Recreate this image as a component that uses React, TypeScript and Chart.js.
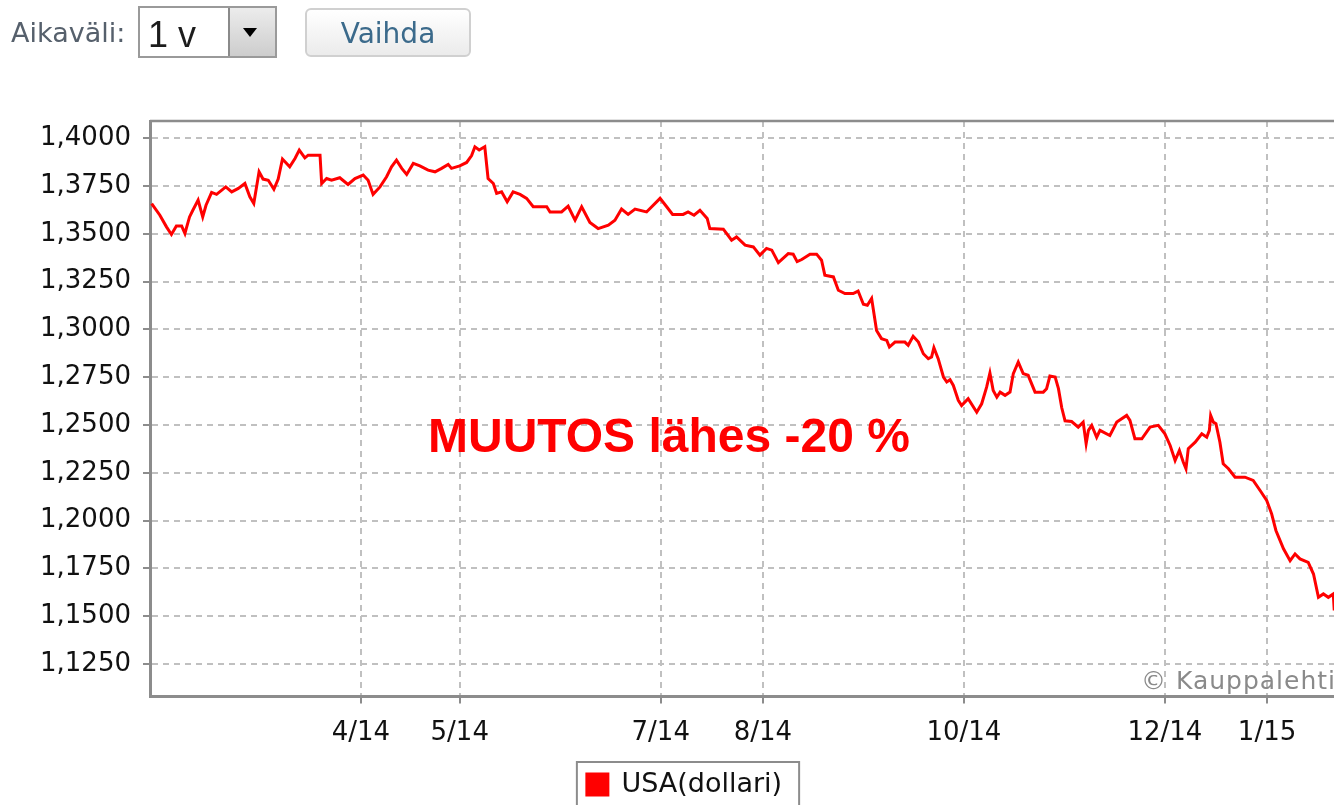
import React, { useEffect, useRef } from 'react';
import { Chart, registerables } from 'chart.js';

Chart.register(...registerables);

// x: days since 1 Jan 2014 ; y: EUR/USD rate
const days = [
  26.5, 29.0, 31.0, 32.5, 34.0, 35.6, 36.6, 37.0, 38.0, 39.0, 40.6, 42.0, 43.0, 44.7, 46.2, 49.0,
  50.8, 52.8, 54.8, 56.3, 57.5, 59.1, 60.3, 61.9, 63.6, 64.9, 66.2, 68.4, 70.0, 71.3, 73.0, 74.0,
  77.6, 78.1, 79.6, 81.1, 83.6, 86.1, 88.2, 90.7, 92.2, 93.7, 95.8, 97.8, 99.3, 100.8, 102.4, 103.9,
  105.9, 107.9, 110.4, 112.5, 114.5, 116.5, 117.5, 120.0, 122.1, 123.6, 124.6, 125.9, 127.6, 128.6,
  130.2, 131.2, 132.7, 134.4, 136.2, 138.3, 140.3, 142.3, 146.4, 147.4, 150.9, 152.9, 155.0, 157.0,
  159.5, 162.0, 165.1, 167.1, 169.1, 171.1, 173.2, 176.7, 180.8, 182.8, 184.6, 187.8, 189.3, 191.1,
  192.9, 195.1, 195.9, 200.0, 202.5, 204.0, 206.6, 209.1, 211.1, 213.1, 214.7, 216.7, 219.7, 221.2,
  222.4, 223.8, 226.3, 228.3, 229.8, 230.8, 233.4, 234.9, 236.9, 239.4, 240.9, 242.5, 243.7, 245.0,
  246.5, 248.0, 249.6, 250.4, 252.1, 255.1, 256.1, 257.6, 259.2, 260.7, 262.2, 263.2, 263.9, 265.2,
  266.8, 267.8, 268.8, 269.8, 271.3, 272.3, 274.3, 276.9, 278.4, 279.9, 280.9, 281.9, 283.0, 284.0,
  285.5, 287.0, 288.0, 289.5, 291.0, 292.5, 294.6, 297.1, 298.1, 299.1, 300.7, 301.7, 302.7, 303.7,
  305.7, 307.7, 309.2, 310.1, 310.8, 311.8, 313.3, 314.3, 317.3, 319.4, 322.4, 323.4, 324.9, 327.0,
  329.5, 332.0, 334.0, 335.6, 337.1, 338.4, 339.6, 340.4, 341.1, 343.2, 345.2, 346.7, 347.5, 347.9,
  348.7, 349.5, 350.7, 351.7, 353.3, 355.3, 358.3, 360.8, 362.9, 364.9, 366.4, 367.7, 370.0, 372.0,
  373.5, 375.0, 377.5, 379.1, 380.6, 382.1, 383.6, 385.1, 385.4
];

const usdValues = [
  1.3659, 1.3598, 1.3537, 1.3497, 1.3542, 1.3542, 1.3502, 1.3528, 1.3589, 1.3624, 1.3677, 1.3589, 1.3650, 1.3717, 1.3707, 1.3746,
  1.3720, 1.3738, 1.3764, 1.3694, 1.3659, 1.3825, 1.3787, 1.3781, 1.3734, 1.3787, 1.3892, 1.3851, 1.3895, 1.3939, 1.3898, 1.3912,
  1.3912, 1.3764, 1.3790, 1.3781, 1.3794, 1.3759, 1.3790, 1.3808, 1.3781, 1.3707, 1.3746, 1.3799, 1.3851, 1.3886, 1.3843, 1.3811,
  1.3869, 1.3856, 1.3834, 1.3825, 1.3843, 1.3864, 1.3843, 1.3856, 1.3874, 1.3910, 1.3956, 1.3939, 1.3956, 1.3790,
  1.3764, 1.3712, 1.3720, 1.3668, 1.3720, 1.3707, 1.3686, 1.3642, 1.3642, 1.3615, 1.3615, 1.3645, 1.3572, 1.3642,
  1.3560, 1.3528, 1.3546, 1.3572, 1.3630, 1.3602, 1.3630, 1.3615, 1.3686, 1.3642, 1.3602, 1.3602, 1.3615, 1.3598,
  1.3624, 1.3581, 1.3528, 1.3525, 1.3467, 1.3484, 1.3441, 1.3432, 1.3389, 1.3424, 1.3415, 1.3350, 1.3397, 1.3394,
  1.3355, 1.3366, 1.3394, 1.3394, 1.3362, 1.3284, 1.3275, 1.3205, 1.3188, 1.3188, 1.3201, 1.3132, 1.3127, 1.3162,
  1.2995, 1.2952, 1.2943, 1.2908, 1.2934, 1.2934, 1.2917, 1.2964, 1.2934, 1.2873, 1.2847, 1.2856, 1.2905, 1.2847,
  1.2751, 1.2725, 1.2737, 1.2707, 1.2629, 1.2602, 1.2638, 1.2567, 1.2611, 1.2698, 1.2772, 1.2681, 1.2646, 1.2672,
  1.2655, 1.2672, 1.2769, 1.2829, 1.2769, 1.2760, 1.2672, 1.2672, 1.2690, 1.2756, 1.2751, 1.2690, 1.2590, 1.2522,
  1.2518, 1.2489, 1.2515, 1.2402, 1.2472, 1.2498, 1.2436, 1.2472, 1.2445, 1.2515, 1.2550, 1.2524, 1.2428, 1.2428,
  1.2489, 1.2498, 1.2454, 1.2393, 1.2314, 1.2367, 1.2305, 1.2271, 1.2376, 1.2410, 1.2454, 1.2436, 1.2472, 1.2550,
  1.2515, 1.2507, 1.2410, 1.2297, 1.2271, 1.2227, 1.2227, 1.2210, 1.2157, 1.2105, 1.2035, 1.1948, 1.1852, 1.1790,
  1.1825, 1.1799, 1.1781, 1.1720, 1.1598, 1.1616, 1.1598, 1.1616, 1.1529
];

const xTickDays = [90, 120, 181, 212, 273, 334, 365];
const xTickLabels = ['4/14', '5/14', '7/14', '8/14', '10/14', '12/14', '1/15'];
const yTicks = [1.125, 1.15, 1.175, 1.2, 1.225, 1.25, 1.275, 1.3, 1.325, 1.35, 1.375, 1.4];
const xMin = 26;
const xMax = 392;
const yMin = 1.1079;
const yMax = 1.4091;

const seriesLabel = 'USA(dollari)';
const annotationText = 'MUUTOS lähes -20 %';
const periodLabel = 'Aikaväli:';
const periodValue = '1 v';
const buttonLabel = 'Vaihda';
const watermark = '© Kauppalehti';

const FONT = "'DejaVu Sans', sans-serif";

export default function App() {
  const canvasRef = useRef<HTMLCanvasElement>(null);

  useEffect(() => {
    if (!canvasRef.current) return;

    const framePlugin = {
      id: 'frame',
      beforeDatasetsDraw(chart: any) {
        const { ctx, chartArea: a } = chart;
        ctx.save();
        ctx.strokeStyle = '#8c8c8c';
        ctx.lineWidth = 2.5;
        ctx.beginPath();
        ctx.moveTo(a.left, a.top);
        ctx.lineTo(a.right, a.top);
        ctx.lineTo(a.right, a.bottom);
        ctx.stroke();
        ctx.restore();
      },
    };

    const legendBorderPlugin = {
      id: 'legendBorder',
      afterDraw(chart: any) {
        const lg = chart.legend;
        if (!lg || !lg.legendHitBoxes || !lg.legendHitBoxes.length) return;
        const h = lg.legendHitBoxes[0];
        const { ctx } = chart;
        ctx.save();
        ctx.strokeStyle = '#8c8c8c';
        ctx.lineWidth = 2;
        ctx.strokeRect(h.left - 10, h.top - 9, h.width + 27, h.height + 26);
        ctx.restore();
      },
    };

    const gridOpts: any = {
      color: '#c0c0c0',
      lineWidth: 2,
      tickLength: 7,
      tickColor: '#8c8c8c',
      tickWidth: 2,
      tickBorderDash: [],
    };
    const borderOpts: any = { display: true, color: '#8c8c8c', width: 3, dash: [6, 5] };

    const chart = new Chart(canvasRef.current, {
      type: 'line',
      data: {
        datasets: [
          {
            label: seriesLabel,
            data: days.map((d, i) => ({ x: d, y: usdValues[i] })),
            borderColor: '#ff0000',
            backgroundColor: '#ff0000',
            borderWidth: 3,
            pointRadius: 0,
            tension: 0,
            fill: false,
          },
        ],
      },
      options: {
        responsive: false,
        animation: false,
        layout: { padding: { left: 13, right: 24, top: 121, bottom: 22 } },
        plugins: {
          tooltip: { enabled: false },
          legend: {
            display: true,
            position: 'bottom',
            labels: {
              boxWidth: 21,
              boxHeight: 21,
              padding: 12,
              color: '#111',
              font: { family: FONT, size: 27 },
            },
          },
        },
        scales: {
          x: {
            type: 'linear',
            min: xMin,
            max: xMax,
            afterBuildTicks: (scale: any) => {
              scale.ticks = xTickDays.map((v) => ({ value: v }));
            },
            afterFit: (scale: any) => {
              scale.height = 62.5;
            },
            ticks: {
              autoSkip: false,
              maxRotation: 0,
              padding: 14,
              color: '#111',
              font: { family: FONT, size: 26 },
              callback: (_v: any, i: number) => xTickLabels[i],
            },
            grid: gridOpts,
            border: borderOpts,
          },
          y: {
            type: 'linear',
            min: yMin,
            max: yMax,
            afterBuildTicks: (scale: any) => {
              scale.ticks = yTicks.map((v) => ({ value: v }));
            },
            afterFit: (scale: any) => {
              scale.width = 137;
            },
            ticks: {
              autoSkip: false,
              padding: 12,
              color: '#111',
              font: { family: FONT, size: 26 },
              callback: (v: any) => Number(v).toFixed(4).replace('.', ','),
            },
            grid: gridOpts,
            border: borderOpts,
          },
        },
      } as any,
      plugins: [framePlugin, legendBorderPlugin],
    });

    return () => chart.destroy();
  }, []);

  return (
    <div
      style={{
        position: 'fixed',
        left: 0,
        top: 0,
        width: 1334,
        height: 805,
        overflow: 'hidden',
        background: '#ffffff',
      }}
    >
      <canvas
        ref={canvasRef}
        width={1380}
        height={830}
        style={{ position: 'absolute', left: 0, top: 0, width: 1380, height: 830, display: 'block' }}
      />

      {/* Period selector */}
      <div
        style={{
          position: 'absolute',
          left: 11,
          top: 18,
          font: `27px ${FONT}`,
          lineHeight: '30px',
          color: '#56606c',
          whiteSpace: 'nowrap',
        }}
      >
        {periodLabel}
      </div>
      <div
        style={{
          position: 'absolute',
          left: 138,
          top: 6,
          width: 139,
          height: 52,
          border: '2px solid #9a9a9a',
          boxSizing: 'border-box',
          background: '#fff',
        }}
      />
      <div
        style={{
          position: 'absolute',
          left: 148,
          top: 16.5,
          font: "36px 'Liberation Sans', Arial, sans-serif",
          lineHeight: '36px',
          color: '#1c1c1c',
          whiteSpace: 'nowrap',
        }}
      >
        {periodValue}
      </div>
      <div
        style={{
          position: 'absolute',
          left: 228,
          top: 8,
          width: 47,
          height: 48,
          boxSizing: 'border-box',
          borderLeft: '2px solid #8a8a8a',
          background: 'linear-gradient(#ececec, #cdcdcd)',
        }}
      />
      <div
        style={{
          position: 'absolute',
          left: 243,
          top: 28,
          width: 0,
          height: 0,
          borderLeft: '7.5px solid transparent',
          borderRight: '7.5px solid transparent',
          borderTop: '9px solid #000',
        }}
      />
      <div
        style={{
          position: 'absolute',
          left: 305,
          top: 8,
          width: 166,
          height: 49,
          boxSizing: 'border-box',
          border: '2px solid #d0d0d0',
          borderRadius: 6,
          background: 'linear-gradient(#ffffff, #ebebeb)',
          display: 'flex',
          alignItems: 'center',
          justifyContent: 'center',
          paddingTop: 2,
          font: `28px ${FONT}`,
          lineHeight: '30px',
          color: '#3b6a8b',
        }}
      >
        {buttonLabel}
      </div>

      {/* Annotation */}
      <div
        style={{
          position: 'absolute',
          left: 428,
          top: 412,
          font: "bold 48px 'Liberation Sans', Arial, sans-serif",
          lineHeight: '48px',
          color: '#ff0000',
          whiteSpace: 'nowrap',
        }}
      >
        {annotationText}
      </div>

      {/* Watermark */}
      <div
        style={{
          position: 'absolute',
          left: 1141,
          top: 666,
          font: `25px ${FONT}`,
          lineHeight: '30px',
          color: '#8a8a8a',
          letterSpacing: '1px',
          whiteSpace: 'nowrap',
        }}
      >
        {watermark}
      </div>
    </div>
  );
}
